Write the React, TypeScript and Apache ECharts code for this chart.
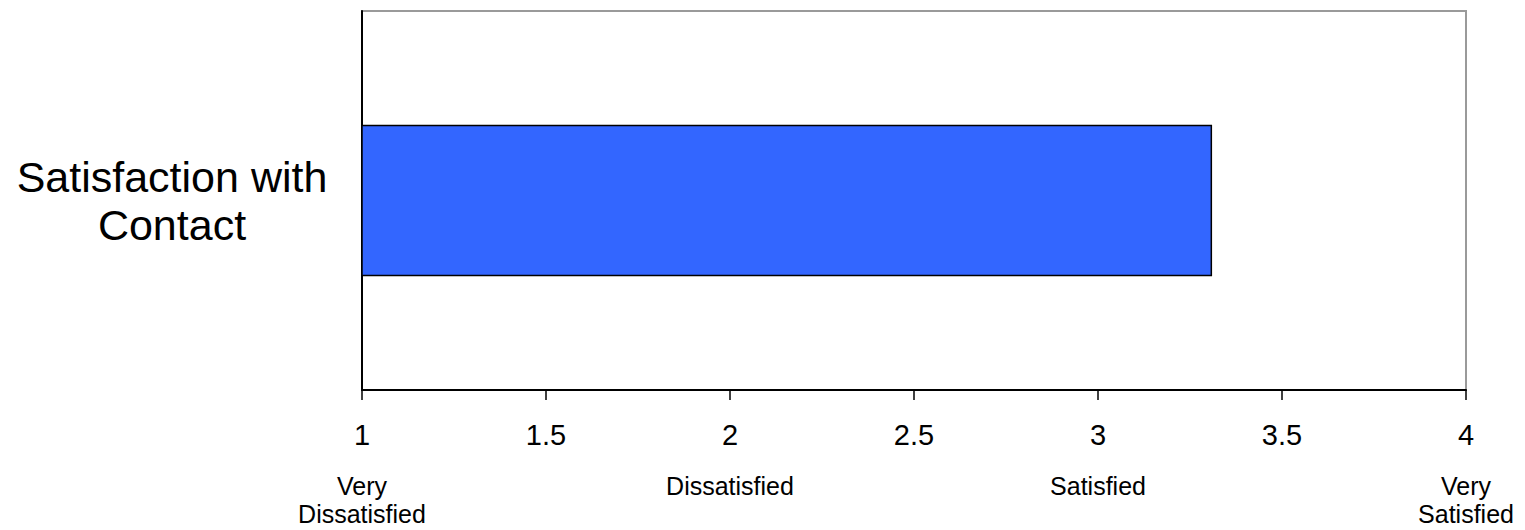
import React, { useEffect, useRef } from "react";
import * as echarts from "echarts";

const categories = ["Satisfaction with\nContact"];
const scores = [3.31];
const scaleTicks = [1, 1.5, 2, 2.5, 3, 3.5, 4];
const scaleLabels = ["Very\nDissatisfied", "Dissatisfied", "Satisfied", "Very\nSatisfied"];

const FONT = "'Liberation Sans', Arial, Helvetica, sans-serif";

export default function App() {
  const ref = useRef<HTMLDivElement>(null);

  useEffect(() => {
    if (!ref.current) return;
    const chart = echarts.init(ref.current, null, { renderer: "svg" });
    chart.setOption({
      animation: false,
      backgroundColor: "#ffffff",
      textStyle: { fontFamily: FONT },
      grid: {
        left: 362,
        right: 59,
        top: 11,
        bottom: 140,
        show: true,
        borderColor: "#9a9a9a",
        borderWidth: 2,
        backgroundColor: "transparent",
      },
      xAxis: [
        {
          type: "value",
          min: scaleTicks[0],
          max: scaleTicks[scaleTicks.length - 1],
          interval: 0.5,
          position: "bottom",
          splitLine: { show: false },
          axisLine: { show: true, lineStyle: { color: "#000", width: 2 } },
          axisTick: { show: true, length: 10, lineStyle: { color: "#000", width: 1.5 } },
          axisLabel: {
            color: "#000",
            fontSize: 29,
            fontFamily: FONT,
            margin: 30,
            formatter: (v: number) => String(v),
          },
        },
        {
          type: "value",
          min: 1,
          max: 4,
          interval: 1,
          position: "bottom",
          splitLine: { show: false },
          axisLine: { show: false },
          axisTick: { show: false },
          axisLabel: {
            color: "#000",
            fontSize: 25,
            lineHeight: 28,
            fontFamily: FONT,
            margin: 82,
            align: "center",
            formatter: (v: number) => scaleLabels[Math.round(v) - 1] ?? "",
          },
        },
      ],
      yAxis: {
        type: "category",
        data: categories,
        axisLine: { show: true, lineStyle: { color: "#000", width: 2 } },
        axisTick: { show: false },
        splitLine: { show: false },
        axisLabel: {
          color: "#000",
          fontSize: 43,
          lineHeight: 48,
          fontFamily: FONT,
          align: "center",
          margin: 190,
        },
      },
      series: [
        {
          type: "bar",
          xAxisIndex: 0,
          data: scores,
          barWidth: "40%",
          itemStyle: { color: "#3366FF", borderColor: "#000", borderWidth: 1.5 },
        },
      ],
    });
    return () => chart.dispose();
  }, []);

  return (
    <div
      ref={ref}
      style={{ position: "fixed", left: 0, top: 0, width: 1525, height: 530 }}
    />
  );
}
